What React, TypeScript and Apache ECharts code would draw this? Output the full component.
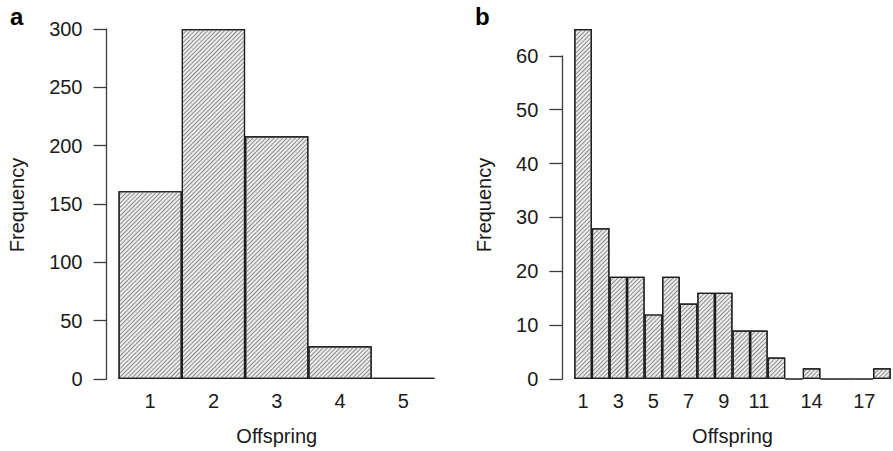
import { useEffect, useRef } from "react";
import * as echarts from "echarts";

// Panel a: offspring counts 1–5
const offspringA = ["1", "2", "3", "4", "5"];
const frequencyA = [161, 300, 208, 28, 1];
const yTicksA = [0, 50, 100, 150, 200, 250, 300];

// Panel b: offspring counts 1–18
const offspringB = [
  "1", "2", "3", "4", "5", "6", "7", "8", "9",
  "10", "11", "12", "13", "14", "15", "16", "17", "18",
];
const frequencyB = [65, 28, 19, 19, 12, 19, 14, 16, 16, 9, 9, 4, 0, 2, 0, 0, 0, 2];
const yTicksB = [0, 10, 20, 30, 40, 50, 60];
const shownLabelsB = ["1", "3", "5", "7", "9", "11", "14", "17"];

const FONT = "'Liberation Sans', Arial, Helvetica, sans-serif";
const INK = "#1a1a1a";
const AXIS = "#3c3c3c";

// fine 45° hatching inside the bars
const hatch = {
  symbol: "rect",
  symbolSize: 1,
  dashArrayX: [1, 0],
  dashArrayY: [0.9, 1.3],
  rotation: -Math.PI / 4,
  color: "#8e8e8e",
};

function xAxisFor(data: string[], grid: number, labelFilter?: string[]) {
  return {
    type: "category",
    gridIndex: grid,
    data,
    axisLine: { show: false },
    axisTick: { show: false },
    axisLabel: {
      margin: 12,
      fontSize: 20,
      fontFamily: FONT,
      color: INK,
      interval: labelFilter
        ? (_i: number, v: string) => labelFilter.includes(v)
        : 0,
    },
    name: "Offspring",
    nameLocation: "middle",
    nameGap: 47,
    nameTextStyle: { fontSize: 20, fontFamily: FONT, color: INK },
  };
}

function yAxisFor(ticks: number[], grid: number) {
  return {
    type: "value",
    gridIndex: grid,
    min: ticks[0],
    max: ticks[ticks.length - 1],
    interval: ticks[1] - ticks[0],
    offset: 12,
    splitLine: { show: false },
    axisLine: { show: true, lineStyle: { color: AXIS, width: 1.3 } },
    axisTick: { show: true, length: 13, lineStyle: { color: AXIS, width: 1.3 } },
    axisLabel: { margin: 24, fontSize: 20, fontFamily: FONT, color: INK },
  };
}

function barSeries(values: number[], index: number) {
  return {
    type: "bar",
    xAxisIndex: index,
    yAxisIndex: index,
    data: values,
    barWidth: "100%",
    clip: false,
    itemStyle: {
      color: "#ececec",
      borderColor: "#1c1c1c",
      borderWidth: 1.2,
      decal: hatch,
    },
    emphasis: { disabled: true },
  };
}

function panelText(text: string, x: number, y: number, bold: boolean, rotate = false) {
  return {
    type: "text",
    x,
    y,
    rotation: rotate ? Math.PI / 2 : 0,
    style: {
      text,
      font: bold ? `bold 24px ${FONT}` : `20px ${FONT}`,
      fill: bold ? "#000" : INK,
      textAlign: rotate ? "center" : "left",
      textVerticalAlign: "middle",
    },
  };
}

export default function App() {
  const ref = useRef<HTMLDivElement>(null);

  useEffect(() => {
    if (!ref.current) return;
    const chart = echarts.init(ref.current, undefined, { renderer: "svg" });
    chart.setOption({
      animation: false,
      backgroundColor: "#ffffff",
      grid: [
        { left: 118.5, right: 458, top: 29, bottom: 72 },
        { left: 574.3, right: 2.3, top: 55.9, bottom: 72 },
      ],
      xAxis: [xAxisFor(offspringA, 0), xAxisFor(offspringB, 1, shownLabelsB)],
      yAxis: [yAxisFor(yTicksA, 0), yAxisFor(yTicksB, 1)],
      series: [barSeries(frequencyA, 0), barSeries(frequencyB, 1)],
      graphic: [
        panelText("a", 10, 16, true),
        panelText("b", 475, 16.7, true),
        panelText("Frequency", 17.1, 205, false, true),
        panelText("Frequency", 483.8, 205, false, true),
      ],
    });
    return () => chart.dispose();
  }, []);

  return (
    <div
      ref={ref}
      style={{ position: "fixed", left: 0, top: 0, width: 893, height: 451 }}
    />
  );
}
